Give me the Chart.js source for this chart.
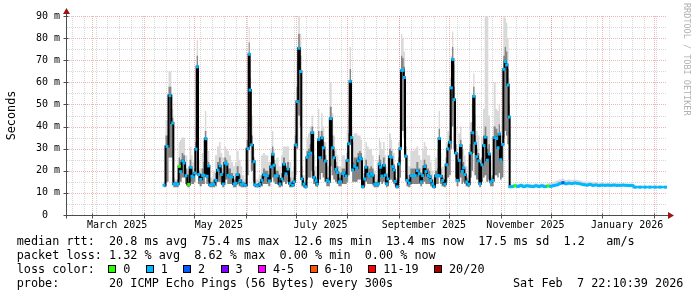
<!DOCTYPE html>
<html>
<head>
<meta charset="utf-8">
<script src="https://cdn.jsdelivr.net/npm/chart.js@4.4.1/dist/chart.umd.min.js"></script>
<style>
html,body{margin:0;padding:0;background:#fff;}
#wrap{position:relative;width:697px;height:297px;overflow:hidden;background:#fff;}
#c{position:absolute;left:0;top:0;}
.lg{position:absolute;font-family:'DejaVu Sans Mono',monospace;font-size:11.8px;line-height:14px;white-space:pre;color:#000;}
.box{position:absolute;width:6px;height:6px;border:1px solid #000;}
#credit{position:absolute;left:682px;top:3px;writing-mode:vertical-rl;font-family:'DejaVu Sans Mono',monospace;font-size:8.5px;line-height:10px;color:#b0b0b0;white-space:pre;}
</style>
</head>
<body>
<div id="wrap">
<canvas id="c" width="697" height="297"></canvas>
<div class="lg" style="left:16.7px;top:234px">median rtt:  20.8 ms avg  75.4 ms max  12.6 ms min  13.4 ms now  17.5 ms sd  1.2   am/s</div>
<div class="lg" style="left:16.7px;top:248px">packet loss: 1.32 % avg  8.62 % max  0.00 % min  0.00 % now</div>
<div class="lg" style="left:16.7px;top:262px">loss color:</div>
<div class="lg" style="left:16.7px;top:276px">probe:       20 ICMP Echo Pings (56 Bytes) every 300s</div>
<div class="lg" style="left:513px;top:276px">Sat Feb  7 22:10:39 2026</div>
<div id="credit">RRDTOOL / TOBI OETIKER</div>
</div>
<script>
// ---- data (x = day number counted from 2025-01-01) ----
const days = [
102.1,103.9,105.7,107.3,108.1,109.3,110.5,111.3,112.1,113.3,
114.1,115.3,116.9,118.1,118.9,119.7,120.5,121.3,122.1,122.9,
124.1,125.3,126.1,127.1,127.9,128.9,129.7,130.9,132.1,133.3,
134.5,135.7,136.5,137.7,138.9,139.7,140.5,141.7,142.9,144.1,
145.3,146.1,147.7,148.5,149.7,150.9,152.5,153.3,153.7,154.7,
156.1,156.7,158.1,159.7,160.9,162.1,163.3,164.1,165.3,166.5,
167.3,168.1,168.9,170.1,171.7,172.9,174.1,175.3,176.5,177.7,
179.3,180.1,181.1,182.1,183.1,184.1,184.9,186.1,187.1,188.1,
188.9,190.1,191.1,192.1,193.3,194.1,194.9,195.7,196.9,197.7,
198.9,200.1,201.1,202.1,203.3,204.1,205.3,206.1,207.3,208.1,
209.3,210.1,211.3,212.1,213.1,213.9,214.7,215.3,216.5,217.7,
218.7,219.7,220.5,221.3,222.5,223.3,224.5,225.3,226.5,227.3,
228.5,229.7,230.7,231.3,232.1,232.9,234.1,234.9,235.7,236.5,
237.7,238.7,239.3,240.1,240.9,242.1,243.1,243.9,244.7,245.5,
246.3,247.1,248.1,249.3,250.5,251.7,252.9,254.1,255.3,256.5,
257.3,258.5,259.3,260.5,261.7,262.1,263.3,264.1,265.3,266.5,
267.3,268.1,269.3,270.5,271.7,272.5,273.7,274.5,275.3,276.1,
277.3,278.1,279.3,280.1,281.1,281.9,282.5,283.7,284.9,286.1,
287.3,287.9,288.9,289.7,290.9,291.7,292.9,294.1,294.9,296.1,
297.3,298.1,299.3,300.5,301.7,302.5,303.3,304.1,305.3,306.1,
306.9,307.7,308.5,309.3,309.7,
310.9,312.7,314.5,316.3,318.1,319.9,321.7,323.5,325.3,327.1,
328.9,330.7,332.5,334.3,336.1,337.9,339.7,341.5,343.3,345.1,
346.9,348.7,350.5,352.3,354.1,355.9,357.7,359.5,361.3,363.1,
364.9,366.7,368.5,370.3,372.1,373.9,375.7,377.5,379.3,381.1,
382.9,384.7,387.7,390.7,393.7,396.7,399.7,403.1
];
const median = [
13.5,31,54,41.6,14,14,14,22,19.6,24.5,
23.5,17.8,13.8,21.6,17.5,17.2,19,29.8,67,18.3,
16.1,17.9,18,34.5,17.5,22.2,13.6,13.8,14,15.6,
20.3,22.2,18.3,14,23.5,23,17.9,17.4,17.2,14,
14.3,18.3,15.6,14,14,13.4,30,72.7,56.5,31.7,
24.1,13.6,13.2,13.9,15.7,18.2,17.8,17.8,15.4,21.8,
27.5,22.5,17.7,17.8,14,16.3,23,18.6,20.8,14.3,
13.4,15,31.7,51.3,75.4,64.9,16.3,14,12.8,26.1,
27.5,28,37.3,17,15.6,14,34.2,25.9,34.9,30.4,
24.4,15.6,15,43.6,30.4,25.9,20.6,19.2,15,15,
18.7,19,17.6,24.7,32.2,60.5,35,20.4,22,21.3,
24.5,26,25.4,12.8,16.3,21.6,18.4,17.5,18.7,18,
13.9,13.8,14.1,23.1,21.6,17.6,22.5,18,14.1,16.3,
26.4,26.1,21.9,20.4,15.2,12.8,23.1,30,65.4,65.4,
62.2,26.6,15.6,14.4,17.8,17.8,17.8,20.1,18.7,15,
17.8,21.9,19.6,17.9,17.3,15.6,14.1,12.8,17.7,17.9,
34.6,17.6,15.6,13.9,22.7,29.9,32.9,57.5,70.4,52.2,
28,15.6,24.7,31.4,19.7,21.3,18.3,15,13.9,28,
37.2,53.7,32.4,26.4,24.5,14.1,22.7,31.4,35.2,24.8,
27.6,15,15.6,35,34.6,30.4,36.6,25,31.9,65.9,
69.4,67.9,58.8,44.3,12.8,
12.8,13.2,12.9,13.3,12.8,13.2,13.0,12.8,13.2,12.9,
13.2,12.8,13.1,13.0,13.3,13.6,14.2,14.6,14.1,14.4,
14.2,14.5,14.3,14.0,13.7,13.5,13.8,13.4,13.6,13.3,
13.5,13.4,13.5,13.4,13.5,13.4,13.4,13.5,13.4,13.3,
13.3,12.6,12.6,12.6,12.6,12.6,12.6,12.6
];
const smokeHi = [
15,43,65,48,17,16,21,33,34,35,
35,27,20,31,27,24,27,40,79,25,
21,28,34,47,25,29,17,17,20,27,
31,33,28,26,31,30,29,27,24,22,
24,29,25,22,18,16,42,85,70,45,
30,16,16,18,27,28,27,27,24,30,
38,30,25,26,22,27,31,31,31,24,
20,22,44,70,90,82,22,18,16,35,
37,40,45,27,22,22,48,38,46,40,
33,22,22,60,46,36,30,27,22,22,
27,27,25,38,45,76,48,33,37,37,
36,36,34,17,26,33,31,30,30,27,
20,18,25,35,33,30,33,27,22,27,
37,34,30,28,22,16,33,41,82,80,
74,40,27,22,29,29,30,31,27,25,
30,33,31,27,27,24,20,17,26,30,
47,28,22,18,33,38,42,72,83,68,
40,24,37,40,30,30,27,22,18,42,
50,64,45,38,36,21,35,48,90,90,
45,24,28,60,48,47,50,38,47,90,
89,87,80,62,14,
13.8,14.3,14.0,14.4,13.9,14.3,14.1,13.9,14.3,14.0,
14.3,13.9,14.2,14.5,15.0,15.5,16.0,16.3,15.8,16.0,
15.8,16.0,15.8,15.5,15.2,15.0,15.2,14.8,14.9,14.6,
14.6,14.4,14.5,14.4,14.5,14.4,14.3,14.4,14.3,14.2,
14.2,13.3,13.3,13.3,13.3,13.3,13.3,13.3
];
const smokeMid = [
14,36,58,44,15,15,16,26,24,28,
27,21,15,25,21,19,21,33,72,20,
18,21,24,38,20,24,15,15,16,19,
24,26,21,17,26,25,21,21,19,16,
17,22,18,16,15,14,34,78,62,36,
26,14,14,15,18,21,20,20,18,24,
31,25,20,20,16,19,26,22,24,17,
15,17,36,58,82,72,18,15,14,29,
30,32,40,20,17,16,38,29,38,33,
27,17,17,49,36,29,24,22,17,17,
21,21,20,28,37,66,40,24,26,26,
28,29,28,14,19,25,22,21,22,21,
15,15,16,27,25,21,26,21,16,19,
30,29,24,23,17,14,26,34,72,71,
67,31,18,16,21,21,21,24,21,17,
21,25,23,21,20,18,16,14,20,21,
39,21,17,15,26,32,36,62,76,58,
32,18,28,34,23,24,21,17,15,32,
42,58,36,30,28,16,26,36,40,30,
32,17,18,40,39,35,41,29,36,72,
76,74,66,50,13.3,
13.2,13.6,13.3,13.7,13.2,13.6,13.4,13.2,13.6,13.3,
13.6,13.2,13.5,13.4,13.7,14.0,14.6,15.0,14.5,14.8,
14.6,14.9,14.7,14.4,14.1,13.9,14.2,13.8,14.0,13.7,
13.9,13.8,13.9,13.8,13.9,13.8,13.8,13.9,13.8,13.7,
13.7,12.9,12.9,12.9,12.9,12.9,12.9,12.9
];
const smokeLo = [
12.5,15,26,26,12.5,12.5,12.5,16,15,17,
17,14,12.5,15,14,14,15,18,35,14,
13,14,14,20,14,15,12.5,12.5,12.5,13,
15,15,14,12.5,16,16,14,14,14,12.5,
12.5,14,13,12.5,12.5,12.5,18,40,35,20,
15,12.5,12.5,12.5,13,14,14,14,13,15,
17,15,14,14,12.5,13,15,14,15,12.5,
12.5,13,18,30,45,40,13,12.5,12,16,
17,17,20,14,13,12.5,18,16,19,17,
15,13,13,22,18,16,15,14,13,13,
14,14,14,15,18,35,20,15,15,15,
16,16,16,12,13,15,14,14,14,14,
12.5,12.5,12.5,15,15,14,15,14,12.5,13,
16,16,15,14,13,12,15,17,38,38,
35,16,13,12.5,14,14,14,14,14,13,
14,15,14,14,14,13,12.5,12,14,14,
18,14,13,12.5,15,17,18,30,40,30,
17,13,15,17,14,15,14,13,12.5,17,
20,28,18,16,16,12.5,15,17,18,15,
16,13,13,18,18,17,19,16,17,35,
38,36,32,25,12.3,
12.4,12.8,12.5,12.9,12.4,12.8,12.6,12.4,12.8,12.5,
12.8,12.4,12.7,12.6,12.9,13.2,13.8,14.2,13.7,14.0,
13.8,14.1,13.9,13.6,13.3,13.1,13.4,13.0,13.2,12.9,
13.1,13.0,13.1,13.0,13.1,13.0,13.0,13.1,13.0,12.9,
12.9,12.2,12.2,12.2,12.2,12.2,12.2,12.2
];
// samples whose loss differs from the usual 1/20
const lossDays = [111.3, 116.9, 312.7, 332.5, 341.5];
const lossValues = [0, 0, 0, 0, 2];

const lossLabels = ['0','1','2','3','4-5','6-10','11-19','20/20'];
const lossColors = ['#26ff00','#00b8ff','#0059ff','#7e00ff','#ff00ff','#ff5500','#ff0000','#a10000'];

const xTickDays = [74, 135, 196, 258, 319, 380];
const xTickLabels = ['March 2025','May 2025','July 2025','September 2025','November 2025','January 2026'];
const xMin = 43.9, xMax = 403.9;
const yTicks = [0,10,20,30,40,50,60,70,80,90];

// ---- legend boxes (HTML) ----
(function(){
  const wrap = document.getElementById('wrap');
  let x = 108.3;
  lossLabels.forEach((lab, i) => {
    const b = document.createElement('div');
    b.className = 'box';
    b.style.left = x + 'px'; b.style.top = '265px'; b.style.background = lossColors[i];
    wrap.appendChild(b);
    const t = document.createElement('div');
    t.className = 'lg'; t.textContent = lab;
    t.style.left = (x + 15) + 'px'; t.style.top = '262px';
    wrap.appendChild(t);
    x = x + 15 + lab.length * 7.1 + 15.3;
  });
})();

// ---- helpers ----
const pts = arr => days.map((d, i) => ({x: d, y: arr[i]}));
const dayOf = (y, m, d) => (Date.UTC(y, m, d) - Date.UTC(2025, 0, 1)) / 864e5;

const gridPlugin = {
  id: 'rrdgrid',
  beforeDatasetsDraw(chart) {
    const {ctx, chartArea: a, scales: {x, y}} = chart;
    ctx.save();
    ctx.lineWidth = 1;
    ctx.setLineDash([1, 1]);
    const hline = v => { const py = Math.round(y.getPixelForValue(v)) + 0.5; ctx.beginPath(); ctx.moveTo(a.left, py); ctx.lineTo(a.right, py); ctx.stroke(); };
    const vline = d => { const px = Math.round(x.getPixelForValue(d)) + 0.5; ctx.beginPath(); ctx.moveTo(px, a.top); ctx.lineTo(px, a.bottom); ctx.stroke(); };
    // minor
    ctx.strokeStyle = 'rgba(150,150,150,0.38)';
    for (let v = 5; v < 90; v += 10) hline(v);
    for (let d = 5; d <= xMax; d += 7) if (d > xMin) vline(d);
    // major
    ctx.strokeStyle = 'rgba(225,90,90,0.45)';
    yTicks.forEach(v => { if (v > 0) hline(v); });
    for (let m = 0; m < 26; m++) {
      const d = dayOf(2025 + Math.floor(m / 12), m % 12, 1);
      if (d > xMin && d < xMax) vline(d);
    }
    ctx.restore();
  }
};

const axisPlugin = {
  id: 'rrdaxis',
  afterDatasetsDraw(chart) {
    const {ctx, chartArea: a, scales: {x, y}} = chart;
    const y0 = Math.round(y.getPixelForValue(0)) + 0.5;
    const x0 = Math.round(a.left) - 0.5;
    ctx.save();
    ctx.setLineDash([]);
    ctx.lineWidth = 1;
    ctx.strokeStyle = '#4a4f4d';
    ctx.beginPath();
    ctx.moveTo(x0 - 3, y0); ctx.lineTo(a.right + 2, y0);
    ctx.moveTo(x0, y0 + 3); ctx.lineTo(x0, a.top - 3);
    for (let m = 0; m < 26; m++) {
      const d = dayOf(2025 + Math.floor(m / 12), m % 12, 1);
      if (d > xMin && d < xMax) { const px = Math.round(x.getPixelForValue(d)) + 0.5; ctx.moveTo(px, y0 - 2); ctx.lineTo(px, y0 + 3); }
    }
    yTicks.forEach(v => { if (v > 0) { const py = Math.round(y.getPixelForValue(v)) + 0.5; ctx.moveTo(x0 - 3, py); ctx.lineTo(x0 + 2, py); } });
    ctx.stroke();
    ctx.fillStyle = '#9a1515';
    ctx.beginPath(); ctx.moveTo(a.right + 1, y0 - 3.5); ctx.lineTo(a.right + 7, y0); ctx.lineTo(a.right + 1, y0 + 3.5); ctx.closePath(); ctx.fill();
    ctx.beginPath(); ctx.moveTo(x0 - 3.5, a.top - 2); ctx.lineTo(x0, a.top - 8); ctx.lineTo(x0 + 3.5, a.top - 2); ctx.closePath(); ctx.fill();
    ctx.restore();
  }
};

Chart.defaults.font.family = "'DejaVu Sans Mono', monospace";
Chart.defaults.color = '#000';

new Chart(document.getElementById('c'), {
  type: 'line',
  data: {
    datasets: [
      {label: 'smoke max', data: pts(smokeHi), fill: {target: 3}, backgroundColor: '#d9d9d9', borderWidth: 0, pointRadius: 0, stepped: 'middle', order: 3},
      {label: 'smoke upper', data: pts(smokeMid), fill: {target: 3}, backgroundColor: '#858585', borderWidth: 0, pointRadius: 0, stepped: 'middle', order: 2},
      {label: 'median rtt', data: pts(median), fill: false, borderColor: '#000', borderWidth: 2, stepped: 'middle',
        segment: {borderColor: c => c.p0.parsed.x >= 309.7 ? lossColors[1] : '#000'},
        pointStyle: 'rect', pointRadius: 2.1, pointBorderWidth: 0,
        pointBackgroundColor: c => { const k = lossDays.indexOf(c.raw ? c.raw.x : NaN); return lossColors[k >= 0 ? lossValues[k] : 1]; },
        order: 0},
      {label: 'smoke min', data: pts(smokeLo), fill: false, borderWidth: 0, pointRadius: 0, stepped: 'middle', order: 4}
    ]
  },
  options: {
    responsive: false,
    animation: false,
    devicePixelRatio: 1,
    layout: {padding: {top: 16, right: 30, left: 0, bottom: 0}},
    plugins: {legend: {display: false}, tooltip: {enabled: false}},
    scales: {
      x: {
        type: 'linear', min: xMin, max: xMax,
        grid: {display: false, drawTicks: false}, border: {display: false},
        afterBuildTicks: s => { s.ticks = xTickDays.map(v => ({value: v})); },
        afterFit: s => { s.height = 82; },
        ticks: {autoSkip: false, maxRotation: 0, padding: 4, color: '#000', font: {size: 10},
          callback: v => xTickLabels[xTickDays.indexOf(v)]}
      },
      y: {
        min: 0, max: 90,
        grid: {display: false, drawTicks: false}, border: {display: false},
        afterFit: s => { s.width = 67; },
        ticks: {stepSize: 10, padding: 7, color: '#000', font: {size: 10},
          callback: v => v === 0 ? '0  ' : v + ' m'},
        title: {display: true, text: 'Seconds', color: '#000', font: {size: 11.8}, padding: {top: 5, bottom: 0}}
      }
    }
  },
  plugins: [gridPlugin, axisPlugin]
});
</script>
</body>
</html>
